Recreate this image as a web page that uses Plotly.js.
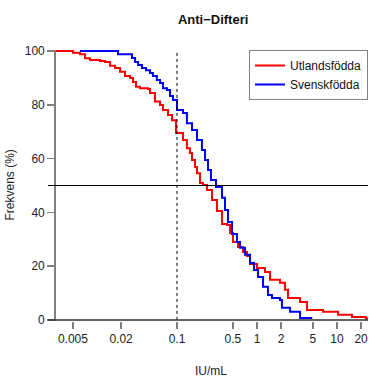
<!DOCTYPE html>
<html>
<head>
<meta charset="utf-8">
<script src="https://cdn.plot.ly/plotly-3.0.1.min.js"></script>
<style>html,body{margin:0;padding:0;background:#fff;}#chart{width:388px;height:388px;}</style>
</head>
<body>
<div id="chart"></div>
<script>
// Utlandsfödda (red)
var utlX = [0.00307,0.0050,0.00613,0.00708,0.00818,0.0109,0.0126,0.01454,0.0168,0.0194,0.0224,0.0259,0.0282,0.0307,0.0345,0.0434,0.046,0.0531,0.0613,0.0668,0.0772,0.0866,0.0971,0.119,0.133,0.145,0.154,0.168,0.178,0.194,0.211,0.237,0.274,0.316,0.365,0.422,0.46,0.501,0.579,0.668,0.75,0.818,1.0,1.259,1.454,1.94,2.24,2.44,3.45,4.22,6.68,10.3,15.4,23.0,24.5];
var utlY = [100,99.4,98.8,97.3,96.7,96.3,95.9,94.5,93.7,92.3,90.7,90.0,88.5,86.7,86.2,85.9,84.4,81.2,79.9,78.1,76.2,74.3,69.5,66.9,63.9,62.1,59.5,56.9,54.6,50.9,50.2,48.3,44.6,40.5,35.7,35.3,32.3,29.0,27.1,25.3,23.8,20.8,19.3,17.8,14.9,13.8,11.2,8.2,6.7,3.7,3.0,1.9,1.1,0.5,0.5];
// Svenskfödda (blue)
var sveX = [0.00613,0.0183,0.0274,0.0299,0.0326,0.0365,0.041,0.046,0.050,0.056,0.0613,0.0668,0.075,0.0818,0.089,0.1,0.119,0.133,0.154,0.178,0.205,0.224,0.244,0.266,0.307,0.365,0.398,0.434,0.487,0.562,0.613,0.708,0.818,0.917,1.03,1.19,1.37,1.54,1.94,2.05,2.59,3.45,4.9];
var sveY = [100,98.8,97.4,95.9,94.8,93.7,92.9,91.8,90.7,89.2,88.1,86.2,85.5,83.3,81.8,78.1,77.0,73.2,70.6,66.9,63.2,59.5,55.8,52.0,49.4,45.4,40.9,36.4,32.0,29.0,26.8,24.2,21.2,18.6,16.0,12.3,9.3,8.2,7.4,4.5,3.0,0.7,0.7];

var xTickVals = [0.005,0.02,0.1,0.5,1,2,5,10,20];
var xTickText = ["0.005","0.02","0.1","0.5","1","2","5","10","20"];
var yTickVals = [0,20,40,60,80,100];
var refX = [0.1,0.1];
var refY = [0,100];

var font = "Liberation Sans, Arial, sans-serif";

var traces = [
  {x: utlX, y: utlY, type:'scatter', mode:'lines', line:{shape:'hv', color:'#FF0000', width:2}, name:'Utlandsfödda'},
  {x: sveX, y: sveY, type:'scatter', mode:'lines', line:{shape:'hv', color:'#0000FF', width:2}, name:'Svenskfödda'},
  {x: refX, y: refY, type:'scatter', mode:'lines', line:{color:'#000', width:1, dash:'3px,3px'}, showlegend:false, hoverinfo:'skip'}
];

var layout = {
  width: 388, height: 388,
  margin: {l:48, r:20, t:50, b:67},
  paper_bgcolor:'#fff', plot_bgcolor:'#fff',
  font: {family: font, size: 12, color:'#222'},
  title: {text:'<b>Anti−Difteri</b>', x:0.516, xref:'paper', y:0.951, yanchor:'middle', font:{family:font, size:13, color:'#111'}},
  xaxis: {type:'log', range:[-2.6125, 1.3875], tickvals:xTickVals, ticktext:xTickText,
          showgrid:false, zeroline:false, showline:false, ticks:'outside', ticklen:7, tickcolor:'#808080', tickwidth:1.5,
          tickfont:{size:12, color:'#222'}},
  yaxis: {range:[-0.4,100.4], tickvals:yTickVals, anchor:'free', position:0.0224,
          showgrid:false, zeroline:false, showline:true, linecolor:'#808080', linewidth:2,
          ticks:'outside', ticklen:7, tickcolor:'#808080', tickwidth:1.5, tickfont:{size:12, color:'#222'}},
  shapes: [
    {type:'line', xref:'paper', x0:0, x1:1, yref:'y', y0:50, y1:50, line:{color:'#000', width:1}},
    {type:'line', xref:'paper', x0:0, x1:1, yref:'y', y0:0, y1:0, line:{color:'#333', width:1.5}}
  ],
  annotations: [
    {text:'IU/mL', xref:'paper', yref:'paper', x:0.51, y:0, yshift:-50, showarrow:false, font:{size:12, color:'#222'}, yanchor:'middle'},
    {text:'Frekvens (%)', xref:'paper', yref:'paper', x:0, xshift:-39, y:0.5, showarrow:false, textangle:-90, font:{size:12, color:'#222'}, xanchor:'center', yanchor:'middle'}
  ],
  legend: {x:1, xanchor:'right', y:1, yanchor:'top', bordercolor:'#808080', borderwidth:1, bgcolor:'#fff',
           font:{size:12, color:'#111'}, tracegroupgap:0},
  showlegend:true
};

Plotly.newPlot('chart', traces, layout, {displayModeBar:false, staticPlot:true});
</script>
</body>
</html>
